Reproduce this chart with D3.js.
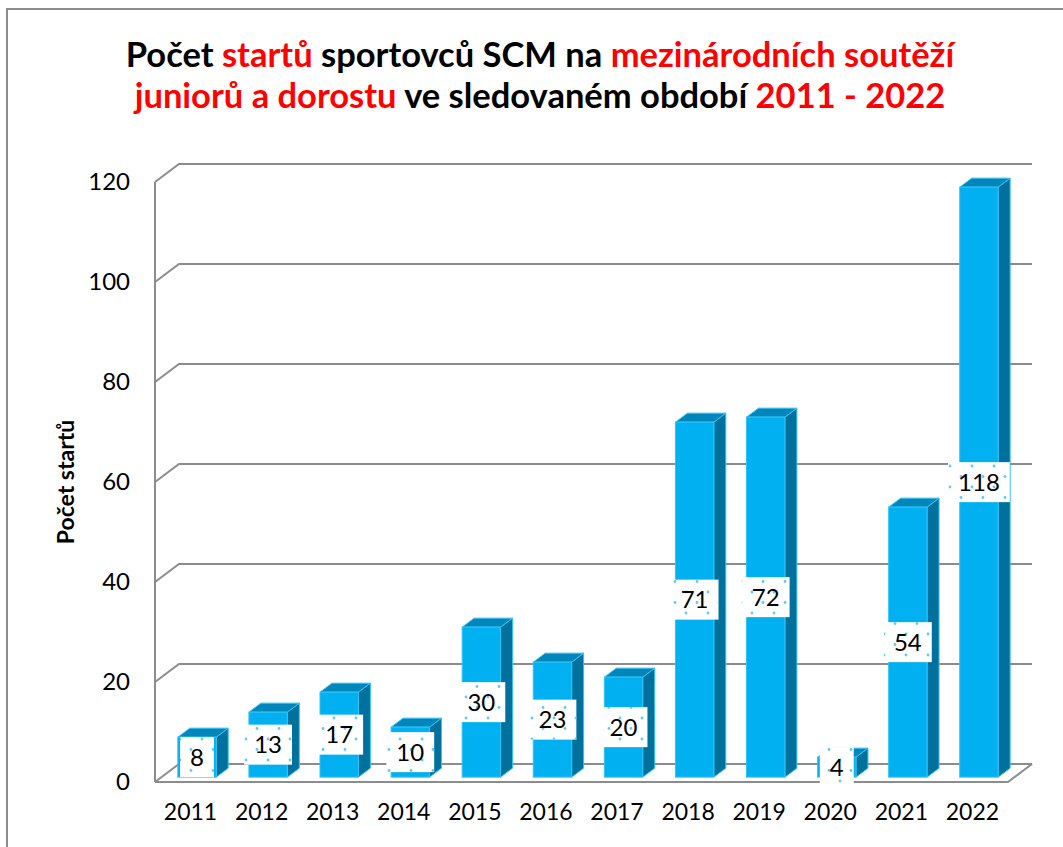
<!DOCTYPE html>
<html>
<head>
<meta charset="utf-8">
<script src="https://cdn.jsdelivr.net/npm/d3@7"></script>
<style>
    html, body { margin: 0; padding: 0; background: #fff; }
    svg { display: block; font-family: Lato, 'Open Sans', sans-serif; }
</style>
</head>
<body>
<div id="chart"></div>
<script>
// data
const years = ['2011', '2012', '2013', '2014', '2015', '2016', '2017', '2018', '2019', '2020', '2021', '2022']
const starts = [8, 13, 17, 10, 30, 23, 20, 71, 72, 4, 54, 118]
const yTicks = [0, 20, 40, 60, 80, 100, 120]
const yTitle = 'Počet startů'
// title pieces, hl = red text
const titleLine1 = [
    { text: 'Počet ', hl: false },
    { text: 'startů', hl: true },
    { text: ' sportovců SCM na ', hl: false },
    { text: 'mezinárodních soutěží', hl: true }
]
const titleLine2 = [
    { text: 'juniorů a dorostu', hl: true },
    { text: ' ve sledovaném období ', hl: false },
    { text: '2011 - 2022', hl: true }
]

const width = 1063
const height = 847

// front edge of the floor and the depth of the 3d box
const front = { x0: 155, x1: 1008, y0: 782, y1: 182 }
const depth = { dx: 24, dy: -18 }
const barFront = 0.27
const barBack = 0.77

const svg = d3.select('#chart').append('svg')
    .attr('width', width)
    .attr('height', height)

svg.append('rect')
    .attr('x', 7)
    .attr('y', 9)
    .attr('width', width + 20)
    .attr('height', height + 20)
    .attr('fill', 'none')
    .attr('stroke', '#8c8c8c')
    .attr('stroke-width', 2)

// scales
const x = d3.scaleBand()
    .domain(years)
    .range([front.x0, front.x1])
    .padding(0)
const y = d3.scaleLinear()
    .domain([0, 120])
    .range([front.y0, front.y1])

const gridColor = '#8c8c8c'
const walls = svg.append('g').attr('class', 'walls')

// left wall + back wall gridlines
yTicks.forEach(t => {
    walls.append('polyline')
        .attr('points', [
            [front.x0, y(t)],
            [front.x0 + depth.dx, y(t) + depth.dy],
            [front.x1 + depth.dx, y(t) + depth.dy]
        ].join(' '))
        .attr('fill', 'none')
        .attr('stroke', gridColor)
        .attr('stroke-width', 2)
})
walls.append('line')
    .attr('x1', front.x0).attr('x2', front.x0)
    .attr('y1', y(120)).attr('y2', y(0))
    .attr('stroke', gridColor)
    .attr('stroke-width', 2)
// floor front edge
walls.append('polyline')
    .attr('points', [
        [front.x0, y(0)],
        [front.x1, y(0)],
        [front.x1 + depth.dx, y(0) + depth.dy]
    ].join(' '))
    .attr('fill', 'none')
    .attr('stroke', gridColor)
    .attr('stroke-width', 2)

// bars
const barW = x.bandwidth() * 0.54
const fx = depth.dx * barFront, fy = depth.dy * barFront
const bx = depth.dx * (barBack - barFront), by = depth.dy * (barBack - barFront)

function barGeom(d, i) {
    const cx = x(years[i]) + x.bandwidth() / 2 + fx
    return {
        cx: cx,
        xl: cx - barW / 2,
        xr: cx + barW / 2,
        yt: y(d) + fy,
        yb: y(0) + fy
    }
}

const bars = svg.append('g').attr('class', 'bars')
starts.forEach((d, i) => {
    const g = barGeom(d, i)
    const bar = bars.append('g')
    // side
    bar.append('polygon')
        .attr('points', [[g.xr, g.yt], [g.xr + bx, g.yt + by], [g.xr + bx, g.yb + by], [g.xr, g.yb]].join(' '))
        .attr('fill', '#00709c')
        .attr('stroke', '#33c3f5')
        .attr('stroke-width', 1)
    // top
    bar.append('polygon')
        .attr('points', [[g.xl, g.yt], [g.xl + bx, g.yt + by], [g.xr + bx, g.yt + by], [g.xr, g.yt]].join(' '))
        .attr('fill', '#0086ba')
        .attr('stroke', '#33c3f5')
        .attr('stroke-width', 1)
    // front
    bar.append('rect')
        .attr('x', g.xl)
        .attr('y', g.yt)
        .attr('width', barW)
        .attr('height', g.yb - g.yt)
        .attr('fill', '#00b0f0')
        .attr('stroke', '#33c3f5')
        .attr('stroke-width', 1)
})

// dotted fill for the label boxes
svg.append('defs').append('pattern')
    .attr('id', 'dots')
    .attr('patternUnits', 'userSpaceOnUse')
    .attr('width', 22)
    .attr('height', 21)
    .call(p => {
        p.append('circle').attr('cx', 4).attr('cy', 4).attr('r', 1.4).attr('fill', '#5fcaf5')
        p.append('circle').attr('cx', 15).attr('cy', 14.5).attr('r', 1.4).attr('fill', '#5fcaf5')
    })

// data labels
const labels = svg.append('g').attr('class', 'labels')
starts.forEach((d, i) => {
    const g = barGeom(d, i)
    const my = (g.yt + g.yb) / 2
    const lab = labels.append('g')
    const box = lab.append('rect').attr('fill', '#fff')
    const dots = lab.append('rect').attr('fill', 'url(#dots)')
    const txt = lab.append('text')
        .attr('x', g.cx)
        .attr('y', my)
        .attr('text-anchor', 'middle')
        .attr('dy', '0.36em')
        .style('font-size', '24px')
        .style('fill', '#000')
        .text(d)
    const w = txt.node().getComputedTextLength() + 20
    ;[box, dots].forEach(r => r
        .attr('x', g.cx - w / 2)
        .attr('y', my - 20)
        .attr('width', w)
        .attr('height', 40))
})

// y axis labels
const yAxis = svg.append('g')
    .attr('transform', `translate(${front.x0},0)`)
    .call(d3.axisLeft(y).tickValues(yTicks).tickSize(0).tickPadding(25))
yAxis.select('.domain').remove()
yAxis.selectAll('text')
    .style('font-family', 'Lato, sans-serif')
    .style('font-size', '24px')
    .style('fill', '#000')

// x axis labels
const xAxis = svg.append('g')
    .attr('transform', `translate(0,${y(0)})`)
    .call(d3.axisBottom(x).tickSize(0).tickPadding(22))
xAxis.select('.domain').remove()
xAxis.selectAll('text')
    .style('font-family', 'Lato, sans-serif')
    .style('font-size', '23px')
    .style('fill', '#000')

// axis title
svg.append('text')
    .attr('transform', `translate(66, ${(y(0) + y(120)) / 2}) rotate(-90)`)
    .attr('text-anchor', 'middle')
    .attr('dy', '0.35em')
    .style('font-size', '23px')
    .style('font-weight', 'bold')
    .text(yTitle)

// chart title
function titleLine(parts, ty) {
    const t = svg.append('text')
        .attr('x', 540)
        .attr('y', ty)
        .attr('text-anchor', 'middle')
        .style('font-size', '34.5px')
        .style('font-weight', 'bold')
    parts.forEach(p => {
        t.append('tspan')
            .style('fill', p.hl ? '#ff0000' : '#000')
            .text(p.text)
    })
}
titleLine(titleLine1, 67)
titleLine(titleLine2, 108)
</script>
</body>
</html>
